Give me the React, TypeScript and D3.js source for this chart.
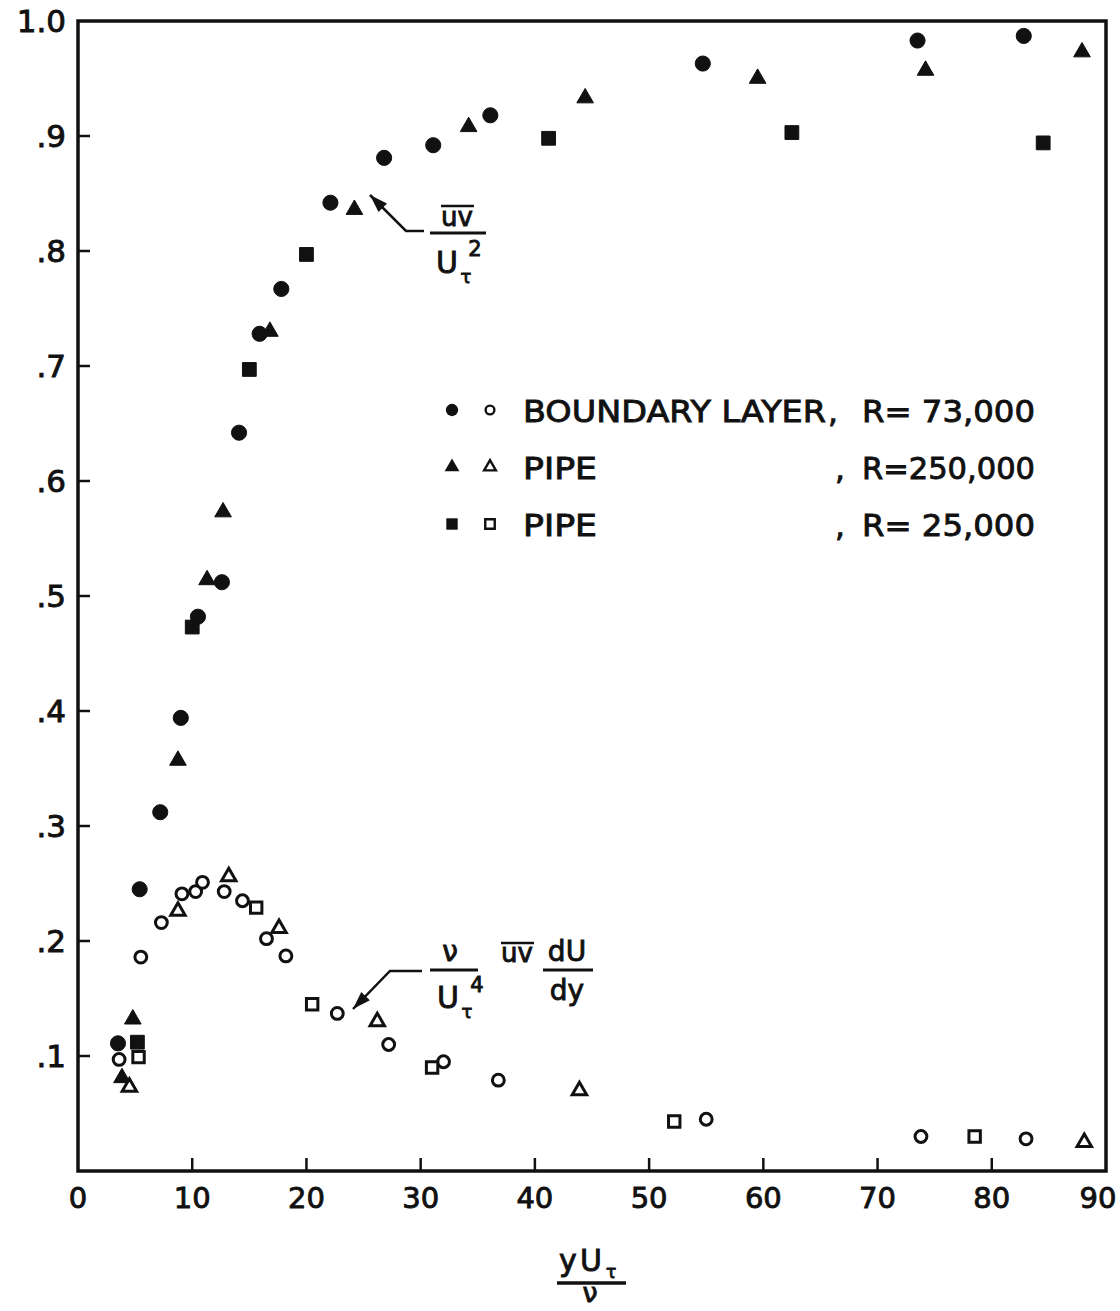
import React, { useEffect, useRef } from 'react';
import * as d3 from 'd3';

// uv/U_tau^2 and turbulent energy production vs y+ (boundary layer and pipe)

// filled symbols: uv / U_tau^2
const blUv = [[3.5, 0.111], [5.4, 0.245], [7.2, 0.312], [9.0, 0.394], [10.5, 0.482], [12.6, 0.512], [14.1, 0.642], [15.9, 0.728], [17.8, 0.767], [22.1, 0.842], [26.8, 0.881], [31.1, 0.892], [36.1, 0.918], [54.7, 0.963], [73.5, 0.983], [82.8, 0.987]];
const pipeHiUv = [[3.85, 0.081], [4.8, 0.132], [8.75, 0.357], [11.3, 0.514], [12.7, 0.573], [16.8, 0.73], [24.2, 0.836], [34.2, 0.908], [44.4, 0.933], [59.5, 0.95], [74.2, 0.957], [87.9, 0.973]];
const pipeLoUv = [[5.2, 0.112], [10.0, 0.473], [15.0, 0.697], [20.0, 0.797], [41.2, 0.898], [62.5, 0.903], [84.5, 0.894]];

// open symbols: (nu / U_tau^4) uv dU/dy
const blProd = [[3.6, 0.097], [5.5, 0.186], [7.3, 0.216], [9.1, 0.241], [10.3, 0.243], [10.9, 0.251], [12.8, 0.243], [14.4, 0.235], [16.5, 0.202], [18.2, 0.187], [22.7, 0.137], [27.2, 0.11], [32.0, 0.095], [36.8, 0.079], [55.0, 0.045], [73.8, 0.03], [83.0, 0.028]];
const pipeHiProd = [[4.5, 0.073], [8.75, 0.226], [13.2, 0.256], [17.6, 0.211], [26.2, 0.13], [43.9, 0.07], [88.1, 0.025]];
const pipeLoProd = [[5.3, 0.099], [15.6, 0.229], [20.5, 0.145], [31.0, 0.09], [52.2, 0.043], [78.5, 0.03]];

const xTicks = [0, 10, 20, 30, 40, 50, 60, 70, 80, 90];
const yTicks = [0.1, 0.2, 0.3, 0.4, 0.5, 0.6, 0.7, 0.8, 0.9, 1.0];
const yTickLabels = ['.1', '.2', '.3', '.4', '.5', '.6', '.7', '.8', '.9', '1.0'];

const legendNames = ['BOUNDARY LAYER', 'PIPE', 'PIPE'];
const legendReynolds = ['R= 73,000', 'R=250,000', 'R= 25,000'];

const FONT = 'DejaVu Sans, Liberation Sans, sans-serif';

const App = () => {
  const svgRef = useRef(null);

  useEffect(() => {
    document.body.style.margin = '0';
    const svg = d3.select(svgRef.current);
    svg.selectAll('*').remove();

    const x = d3.scaleLinear().domain([0, 90]).range([78, 1106]);
    const y = d3.scaleLinear().domain([0, 1]).range([1171, 21]);

    const text = (tx, ty, s, size, anchor = 'middle') =>
      svg.append('text')
        .attr('x', tx).attr('y', ty)
        .attr('font-family', FONT)
        .attr('font-size', size)
        .attr('text-anchor', anchor)
        .attr('fill', '#111')
        .attr('stroke', '#111')
        .attr('stroke-width', 0.9)
        .text(s);

    const line = (x1, y1, x2, y2, w = 3) =>
      svg.append('line')
        .attr('x1', x1).attr('y1', y1).attr('x2', x2).attr('y2', y2)
        .attr('stroke', '#111').attr('stroke-width', w);

    // frame
    svg.append('rect')
      .attr('x', x(0)).attr('y', y(1))
      .attr('width', x(90) - x(0)).attr('height', y(0) - y(1))
      .attr('fill', 'none').attr('stroke', '#111').attr('stroke-width', 3.5);

    // ticks
    xTicks.slice(1, -1).forEach(t => line(x(t), y(0), x(t), y(0) - 13, 2.5));
    yTicks.slice(0, -1).forEach(t => line(x(0), y(t), x(0) + 12, y(t), 2.5));

    xTicks.forEach(t => text(t === 90 ? x(t) - 8 : x(t), 1208, String(t), 29));
    yTicks.forEach((t, i) => text(66, y(t) + 11, yTickLabels[i], 31, 'end'));

    // markers
    const sym = (type, size) => d3.symbol().type(type).size(size)();
    const draw = (data, type, size, filled) => {
      svg.append('g').selectAll('path')
        .data(data)
        .enter()
        .append('path')
        .attr('transform', d => `translate(${x(d[0])},${y(d[1])})`)
        .attr('d', sym(type, size))
        .attr('fill', filled ? '#111' : 'white')
        .attr('stroke', '#111')
        .attr('stroke-width', filled ? 1 : 3);
    };

    draw(blUv, d3.symbolCircle, 180, true);
    draw(pipeHiUv, d3.symbolTriangle, 120, true);
    draw(pipeLoUv, d3.symbolSquare, 190, true);
    draw(blProd, d3.symbolCircle, 110, false);
    draw(pipeHiProd, d3.symbolTriangle, 90, false);
    draw(pipeLoProd, d3.symbolSquare, 130, false);

    // legend
    const legendY = [410, 467, 524];
    const legendSyms = [
      [d3.symbolCircle, 120, d3.symbolCircle, 60],
      [d3.symbolTriangle, 95, d3.symbolTriangle, 60],
      [d3.symbolSquare, 130, d3.symbolSquare, 90],
    ];
    legendY.forEach((ly, i) => {
      const [ft, fs, ot, os] = legendSyms[i];
      svg.append('path').attr('transform', `translate(452,${ly})`)
        .attr('d', sym(ft, fs)).attr('fill', '#111');
      svg.append('path').attr('transform', `translate(490,${ly})`)
        .attr('d', sym(ot, os)).attr('fill', 'white')
        .attr('stroke', '#111').attr('stroke-width', 2.4);
      text(523, ly + 12, legendNames[i], 31, 'start')
        .attr('textLength', i === 0 ? 303 : 74)
        .attr('lengthAdjust', 'spacingAndGlyphs');
      text(i === 0 ? 828 : 835, ly + 12, ',', 31, 'start');
      text(862, ly + 12, legendReynolds[i], 31, 'start')
        .attr('textLength', 173)
        .attr('lengthAdjust', 'spacingAndGlyphs');
    });

    // arrows
    const arrow = (pts) => {
      svg.append('path')
        .attr('d', d3.line()(pts))
        .attr('fill', 'none').attr('stroke', '#111').attr('stroke-width', 2.5);
      const [tx, ty] = pts[pts.length - 1];
      const [px, py] = pts[pts.length - 2];
      const a = Math.atan2(ty - py, tx - px);
      const L = 18, W = 6;
      const bx = tx - L * Math.cos(a), by = ty - L * Math.sin(a);
      svg.append('path')
        .attr('d', d3.line()([
          [tx, ty],
          [bx + W * Math.sin(a), by - W * Math.cos(a)],
          [bx - W * Math.sin(a), by + W * Math.cos(a)],
        ]) + 'Z')
        .attr('fill', '#111');
    };
    arrow([[424, 231], [406, 231], [370, 195]]);
    arrow([[422, 971], [390, 971], [353, 1009]]);

    // uv / U_tau^2 label
    text(457, 226, 'uv', 26);
    line(441, 206, 474, 206, 2.5);
    line(430, 233, 486, 233, 3);
    text(447, 273, 'U', 30);
    text(466, 283, 'τ', 18);
    text(475, 256, '2', 21);

    // production label
    text(450, 961, 'ν', 28);
    line(430, 970, 478, 970, 3);
    text(448, 1008, 'U', 30);
    text(467, 1018, 'τ', 18);
    text(477, 992, '4', 21);
    text(517, 962, 'uv', 26);
    line(501, 943, 534, 943, 2.5);
    text(567, 961, 'dU', 28);
    line(543, 970, 593, 970, 3);
    text(567, 1000, 'dy', 28);

    // x axis title
    text(568, 1271, 'y', 30);
    text(591, 1271, 'U', 30);
    text(611, 1278, 'τ', 17);
    line(557, 1283, 626, 1283, 3.5);
    text(590, 1302, 'ν', 27);
  }, []);

  return (
    <svg
      ref={svgRef}
      width="1120"
      height="1311"
      style={{ display: 'block', background: 'white' }}
    />
  );
};

export default App;
